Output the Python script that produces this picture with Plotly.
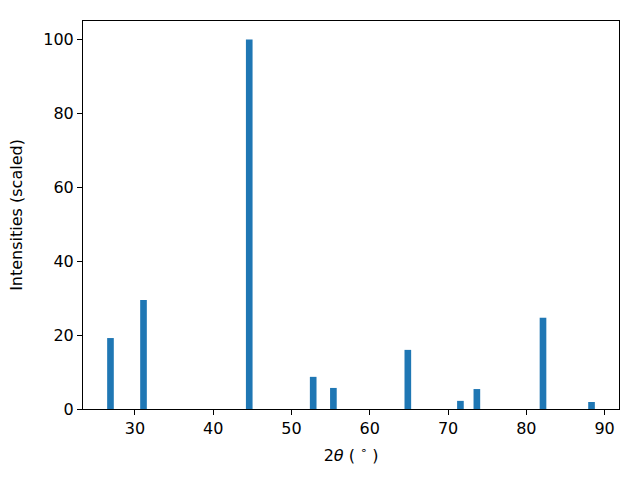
import plotly.graph_objects as go

two_theta = [26.87, 31.09, 44.6, 52.77, 55.35, 64.86, 71.58, 73.68, 82.13, 88.33]
intensity = [19.2, 29.5, 100.0, 8.7, 5.7, 16.0, 2.2, 5.4, 24.7, 1.9]
x_ticks = [30, 40, 50, 60, 70, 80, 90]
y_ticks = [0, 20, 40, 60, 80, 100]

fig = go.Figure(go.Bar(x=two_theta, y=intensity, width=0.85,
                       marker=dict(color="#1f77b4", line=dict(width=0))))

axis_common = dict(showgrid=False, zeroline=False, showline=True, linecolor="black",
                   linewidth=1, mirror=True, ticks="outside", ticklen=5, tickwidth=1,
                   tickcolor="black", tickfont=dict(size=16, color="black"),
                   automargin=False)

fig.update_layout(
    width=640, height=480,
    margin=dict(l=83, r=21, t=21, b=71),
    plot_bgcolor="white", paper_bgcolor="white",
    font=dict(family="DejaVu Sans", size=16, color="black"),
    showlegend=False,
    xaxis=dict(range=[23.36, 91.84], tickvals=x_ticks,
               title=dict(text="2<i>θ</i> ( <sup>∘</sup> )", standoff=12,
                          font=dict(size=16, color="black")), **axis_common),
    yaxis=dict(range=[0, 105], tickvals=y_ticks,
               title=dict(text="Intensities (scaled)", standoff=16,
                          font=dict(size=16, color="black")), **axis_common),
)

fig.write_html("out.html", config={"displayModeBar": False},
               post_script="document.body.style.margin='0';document.body.style.padding='0';")
